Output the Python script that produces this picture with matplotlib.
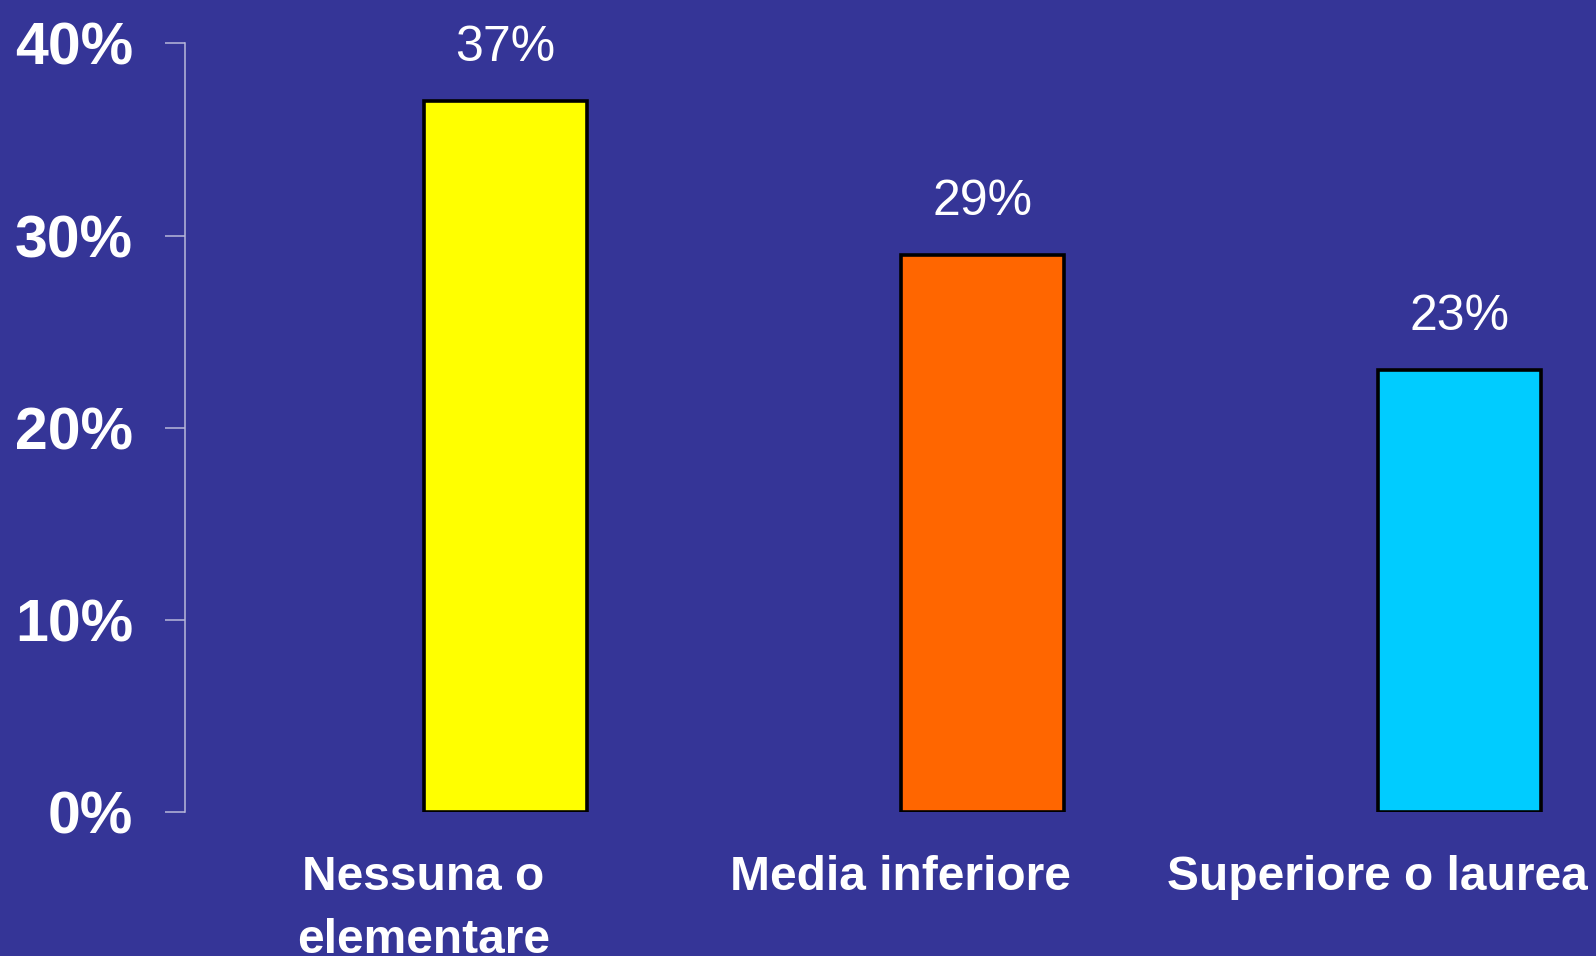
import matplotlib
matplotlib.use("Agg")
import matplotlib.pyplot as plt
import numpy as np

categories = ["Nessuna o\nelementare", "Media inferiore", "Superiore o laurea"]
values = [37, 29, 23]
bar_labels = ["37%", "29%", "23%"]
bar_colors = ["#FFFF00", "#FF6600", "#00CCFF"]
yticks = [0, 10, 20, 30, 40]
ytick_labels = ["0%", "10%", "20%", "30%", "40%"]

BG = "#353597"
AXIS_COLOR = "#B8B8DA"
width = 0.342

fig = plt.figure(figsize=(15.96, 9.56), dpi=100, facecolor=BG)
ax = fig.add_axes([185 / 1596, (956 - 812) / 956, 1 - 185 / 1596, (812 - 43.5) / 956])
ax.set_facecolor(BG)

x = np.arange(len(categories))
bars = ax.bar(x, values, width=width, color=bar_colors, edgecolor="black", linewidth=2.6, zorder=3)

for xi, v, lab in zip(x, values, bar_labels):
    ax.annotate(lab, xy=(xi, v), xytext=(0, 29), textcoords="offset points",
                ha="center", va="baseline", color="white", fontsize=36,
                family="Liberation Sans", annotation_clip=False)

ax.set_xlim(-0.671, 2.287)
ax.set_ylim(0, 40)

ax.set_yticks(yticks)
ax.set_yticklabels(ytick_labels, fontsize=42.5, fontweight="bold", color="white",
                   family="Liberation Sans")
ax.tick_params(axis="y", length=14.4, width=1.1, color=AXIS_COLOR, pad=23)

ax.set_xticks(x - width / 2)
ax.set_xticklabels(categories, fontsize=34.5, fontweight="bold", color="white",
                   family="Liberation Sans", linespacing=1.5)
ax.tick_params(axis="x", length=0, pad=31)

for s in ["top", "right", "bottom"]:
    ax.spines[s].set_visible(False)
ax.spines["left"].set_color(AXIS_COLOR)
ax.spines["left"].set_linewidth(1.1)

fig.savefig("out.png", dpi=100, facecolor=BG)
